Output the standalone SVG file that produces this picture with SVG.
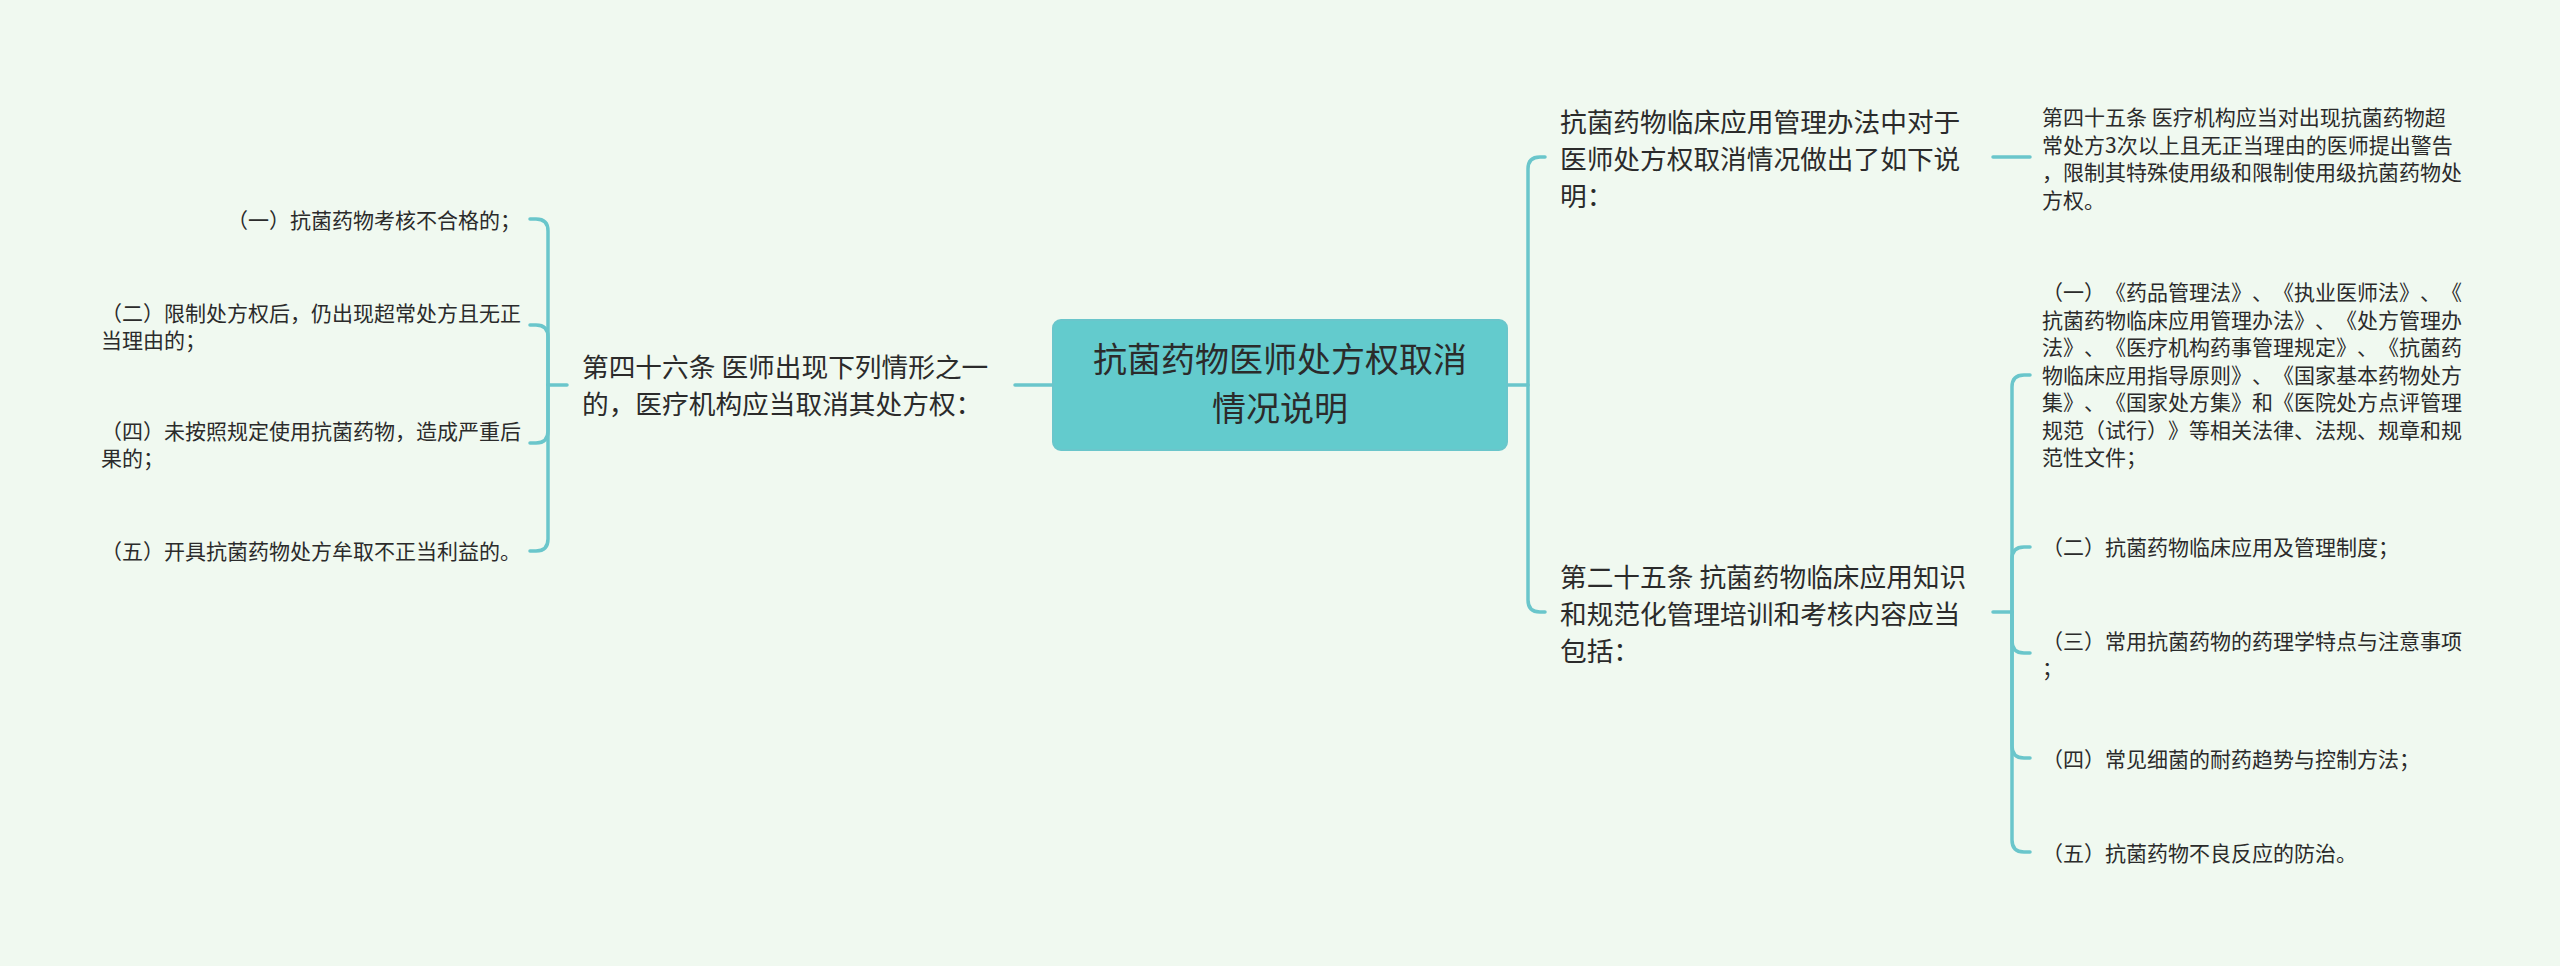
<svg xmlns="http://www.w3.org/2000/svg" width="2560" height="966" viewBox="0 0 2560 966">
<style>
.bg{fill:#F0F9F0}
.ln{fill:none;stroke:#6AC6CB;stroke-width:3.5;stroke-linecap:round;stroke-linejoin:round}
.t{font-family:"Noto Sans CJK SC","Noto Sans",sans-serif;fill:#2B2B2B;text-spacing-trim:space-all;font-kerning:none}
.root{font-size:34px;text-anchor:middle}
.l1{font-size:26.7px}
.lf{font-size:21px}
</style>
<rect class="bg" x="0" y="0" width="2560" height="966"/>
<g id="connectors">
<path class="ln" d="M1053,385 H1015"/>
<path class="ln" d="M567,385 H548 V231 Q548,219 536,219 H530"/>
<path class="ln" d="M548,385 V337 Q548,325 536,325 H530"/>
<path class="ln" d="M548,385 V431 Q548,443 536,443 H530"/>
<path class="ln" d="M548,385 V539 Q548,551 536,551 H530"/>
<path class="ln" d="M1507,385 H1528 V169 Q1528,157 1540,157 H1545"/>
<path class="ln" d="M1528,385 V600 Q1528,612 1540,612 H1545"/>
<path class="ln" d="M1993,157 H2030"/>
<path class="ln" d="M1993,612 H2012 V387 Q2012,375 2024,375 H2030"/>
<path class="ln" d="M2012,612 V559 Q2012,547 2024,547 H2030"/>
<path class="ln" d="M2012,612 V641 Q2012,653 2024,653 H2030"/>
<path class="ln" d="M2012,612 V746 Q2012,758 2024,758 H2030"/>
<path class="ln" d="M2012,612 V840 Q2012,852 2024,852 H2030"/>
</g>
<g id="root">
<rect x="1053" y="320" width="454" height="130" rx="8" fill="#63CBCD" stroke="#6AC6CB" stroke-width="2"/>
<text class="t root" x="1280" y="372">抗菌药物医师处方权取消</text>
<text class="t root" x="1280" y="421">情况说明</text>
</g>
<g id="node-46">
<text class="t l1" x="582" y="377">第四十六条 医师出现下列情形之一</text>
<text class="t l1" x="582" y="414">的，医疗机构应当取消其处方权：</text>
</g>
<g id="node-46-1">
<text class="t lf" x="521" y="227.5" text-anchor="end">（一）抗菌药物考核不合格的；</text>
</g>
<g id="node-46-2">
<text class="t lf" x="101" y="320.8">（二）限制处方权后，仍出现超常处方且无正</text>
<text class="t lf" x="101" y="348.3">当理由的；</text>
</g>
<g id="node-46-4">
<text class="t lf" x="101" y="438.8">（四）未按照规定使用抗菌药物，造成严重后</text>
<text class="t lf" x="101" y="466.3">果的；</text>
</g>
<g id="node-46-5">
<text class="t lf" x="101" y="558.5">（五）开具抗菌药物处方牟取不正当利益的。</text>
</g>
<g id="node-method">
<text class="t l1" x="1560" y="131.6">抗菌药物临床应用管理办法中对于</text>
<text class="t l1" x="1560" y="168.6">医师处方权取消情况做出了如下说</text>
<text class="t l1" x="1560" y="205.6">明：</text>
</g>
<g id="node-45">
<text class="t lf" x="2042" y="125.3">第四十五条 医疗机构应当对出现抗菌药物超</text>
<text class="t lf" x="2042" y="152.8">常处方3次以上且无正当理由的医师提出警告</text>
<text class="t lf" x="2042" y="180.3">，限制其特殊使用级和限制使用级抗菌药物处</text>
<text class="t lf" x="2042" y="207.8">方权。</text>
</g>
<g id="node-25">
<text class="t l1" x="1560" y="586.6">第二十五条 抗菌药物临床应用知识</text>
<text class="t l1" x="1560" y="623.6">和规范化管理培训和考核内容应当</text>
<text class="t l1" x="1560" y="660.6">包括：</text>
</g>
<g id="node-25-1">
<text class="t lf" x="2042" y="300">（一）《药品管理法》、《执业医师法》、《</text>
<text class="t lf" x="2042" y="327.5">抗菌药物临床应用管理办法》、《处方管理办</text>
<text class="t lf" x="2042" y="355">法》、《医疗机构药事管理规定》、《抗菌药</text>
<text class="t lf" x="2042" y="382.5">物临床应用指导原则》、《国家基本药物处方</text>
<text class="t lf" x="2042" y="410">集》、《国家处方集》和《医院处方点评管理</text>
<text class="t lf" x="2042" y="437.5">规范（试行）》等相关法律、法规、规章和规</text>
<text class="t lf" x="2042" y="465">范性文件；</text>
</g>
<g id="node-25-2">
<text class="t lf" x="2042" y="554.5">（二）抗菌药物临床应用及管理制度；</text>
</g>
<g id="node-25-3">
<text class="t lf" x="2042" y="648.8">（三）常用抗菌药物的药理学特点与注意事项</text>
<text class="t lf" x="2042" y="676.3">；</text>
</g>
<g id="node-25-4">
<text class="t lf" x="2042" y="766.5">（四）常见细菌的耐药趋势与控制方法；</text>
</g>
<g id="node-25-5">
<text class="t lf" x="2042" y="860.5">（五）抗菌药物不良反应的防治。</text>
</g>
</svg>
